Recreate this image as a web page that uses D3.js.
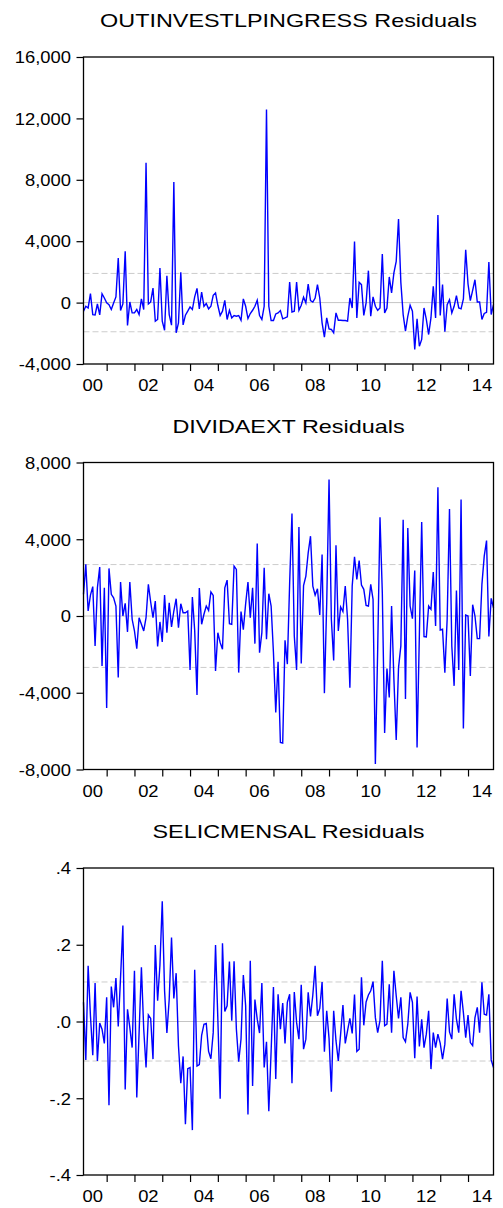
<!DOCTYPE html>
<html><head><meta charset="utf-8">
<script src="https://cdn.jsdelivr.net/npm/d3@7"></script>
<style>body{margin:0;background:#fff} svg{display:block}</style>
</head><body>
<script>
// ---------- data ----------
const titles = ["OUTINVESTLPINGRESS Residuals", "DIVIDAEXT Residuals", "SELICMENSAL Residuals"];
const startYear = 2000, startMonth = 3, nObs = 178; // 2000M03 .. 2014M12

const outinvest = [
  -560, -240, -350, 580, -780, -800, -90, -800, 580, 300,
  -20, -130, -450, -20, 370, 2900, -520, -90, 3350, -1490,
  40, -670, -670, -450, -780, 240, -450, 9110, -90, 40,
  950, -1210, -1100, 2250, -1210, -1800, 1750, -780, -1470, 7860,
  -1970, -1320, 1970, -1450, -820, -560, -280, -450, 370, 930,
  -410, 690, -240, -60, -410, -240, 480, 630, -190, -840,
  -560, 150, -1100, -500, -1000, -840, -890, -840, -1150, 240,
  -240, -1040, -710, -500, -240, 150, -840, -1100, -240, 12580,
  -240, -1170, -1170, -740, -670,
  -520, -1060, -1000, -930, 1340, -610, -560, 1340, -500, -170,
  350, -20, 1210, 130, 40, 300, 1170, 300, -1320, -2250,
  -1000, -1710, -1750, -1970, -670, -1150, -1150, -1170, -1170, -1210,
  300, -350, 3980, -1000, 1320, 1170, -840, -20, 2080, -890,
  370, -240, -500, -350, 3160, -670, -350, 1670, 630, 1930,
  2680, 5450, 1320, -780, -1860, -890, -170, -560, -3050, -1060,
  -2840, -2400, -350, -1100, -2080, -1000, 1060, -1000, 5710, -840,
  1170, -1900, -130, 190, -670, -240, 450, -350, -410, 240,
  3440, 1210, 130, 800, 1490, 40, 40, -1100, -710, -630,
  2640, -780, -130
];

const dividaext = [
  1130, 2690, 260, 1090, 1530, -1560, 1470, 2550, -2600, 1470,
  -4800, 2480, 1130, 950, 520, -3210, 1770, 0, 660, -830,
  1770, -170, -780, -1700, -90, -430, -780, -90, 1650, 730,
  -90, 780, -1590, -310, -1350, 1090, -870, 690, -570, 260,
  900, -610, 640, 170, 170, 260, -2810, 990, -750, -4110,
  1460, -430, 90, 520, 290, 1250, 1070, -2860, -870, -1390,
  -1730, 1470, 1870, -400, -430, 2600, 2430, -2950, 230, -710,
  640, 1770, -90, 1470, -1440, 3780, -1910, -870, 2510, -1210,
  1160, 520, -1900, -5030, -2390,
  -6590, -6620, -1270, -2510, 1730, 5340, -1040, -2810, 4640, -2480,
  1590, 2080, 3290, 4160, 1560, 1090, 1420, 50, 3210, -4020,
  690, 7110, -170, -2320, 3690, -780, 470, 230, 1560, -170,
  -3740, 1560, 3080, 1910, 2890, 1610, 1390, 550, 520, 1650,
  870, -7710, -1730, 5150, 1210, -6100, -2740, -4250, 520, -3290,
  -6460, -2690, -1560, 5010, -4330, 4590, 520, -140, 2370, -6850,
  -950, 4900, -1070, -1090, 520, 350, 2290, -520, 6710, -730,
  -690, -2950, -140, 5580, -1560, -3640, 1330, -2810, 6070, -5860,
  50, 0, -3120, 590, 0, -1180, -1180, 1650, 3120, 3930,
  -1070, 920, 430
];

const selicmensal = [
  0.050, -0.100, 0.145, 0.015, -0.088, 0.100, -0.103, -0.004, -0.020, -0.057,
  0.063, -0.218, 0.091, 0.037, 0.113, -0.013, 0.115, 0.250, -0.177, 0.032,
  -0.016, -0.068, 0.132, -0.198, -0.029, 0.141, -0.020, -0.120, 0.017, 0.008,
  -0.098, 0.199, 0.054, 0.147, 0.313, 0.080, -0.030, 0.058, 0.219, 0.060,
  0.126, -0.063, -0.161, -0.091, -0.268, -0.123, -0.120, -0.283, 0.135, -0.116,
  -0.112, -0.036, -0.007, -0.005, -0.078, -0.097, -0.029, 0.199, 0.006, -0.201,
  0.204, 0.026, 0.041, 0.156, 0.002, 0.157, -0.020, -0.105, -0.046, 0.121,
  0.041, -0.242, 0.158, -0.168, 0.057, 0.006, -0.030, 0.100, -0.120, -0.053,
  -0.234, -0.077, 0.090, -0.150, 0.071,
  -0.020, 0.048, -0.057, 0.050, 0.071, -0.161, 0.077, -0.003, -0.046, 0.096,
  -0.072, -0.046, 0.076, 0.013, 0.069, 0.145, 0.015, 0.034, 0.103, -0.079,
  0.028, -0.044, -0.183, 0.028, -0.050, -0.103, -0.033, 0.043, -0.057, -0.024,
  0.008, -0.031, 0.070, -0.078, -0.072, 0.115, -0.010, 0.051, 0.069, 0.080,
  0.104, 0.010, -0.029, 0.003, 0.158, -0.011, -0.007, 0.097, -0.029, 0.132,
  0.067, 0.008, 0.063, -0.042, -0.053, -0.007, 0.076, 0.050, -0.096, 0.065,
  -0.065, 0.006, -0.068, -0.033, 0.028, -0.124, -0.029, -0.068, -0.033, -0.057,
  -0.098, -0.059, 0.060, -0.027, -0.046, 0.071, 0.006, -0.029, 0.080, 0.023,
  -0.042, 0.017, -0.055, -0.063, 0.010, 0.037, -0.029, 0.102, 0.019, 0.017,
  0.071, -0.100, -0.120
];

const yDomains = [[-4000, 16000], [-8000, 8000], [-0.4, 0.4]];
const yTickValues = [
  [-4000, 0, 4000, 8000, 12000, 16000],
  [-8000, -4000, 0, 4000, 8000],
  [-0.4, -0.2, 0, 0.2, 0.4]
];
const yTickLabels = [
  ["-4,000", "0", "4,000", "8,000", "12,000", "16,000"],
  ["-8,000", "-4,000", "0", "4,000", "8,000"],
  ["-.4", "-.2", ".0", ".2", ".4"]
];
const seBands = [1900, 2680, 0.103];
const xLabelYears = [2000, 2002, 2004, 2006, 2008, 2010, 2012, 2014];
const xLabelText = ["00", "02", "04", "06", "08", "10", "12", "14"];

const seriesList = [outinvest, dividaext, selicmensal];

// ---------- layout ----------
const W = 503, H = 1208;
const left = 83.5, right = 493.5;
const top0 = 57, panelH = 307, step = 405.5;
const FONT = "'Liberation Sans', Arial, Helvetica, sans-serif";

// observation index of January of a year (relative to start)
const janIndex = yr => (yr - startYear) * 12 + (1 - startMonth);
const periods = d3.range(nObs).map(i => {
  const m = startMonth - 1 + i;
  return { year: startYear + Math.floor(m / 12), month: (m % 12) + 1 };
});
const janTicks = periods.map((p, i) => p.month === 1 ? i : null).filter(v => v !== null);

const svg = d3.select("body").append("svg")
  .attr("width", W).attr("height", H)
  .style("font-family", FONT);
svg.append("rect").attr("width", W).attr("height", H).attr("fill", "#fff");

seriesList.forEach((series, p) => {
  const top = top0 + p * step, bottom = top + panelH;
  const x = d3.scaleLinear().domain([0, nObs - 1]).range([left, right]);
  const y = d3.scaleLinear().domain(yDomains[p]).range([bottom, top]);
  const g = svg.append("g");

  // title
  g.append("text")
    .attr("transform", `translate(${(left + right) / 2},${top - 30}) scale(1.3,1)`)
    .attr("text-anchor", "middle")
    .attr("font-size", 18)
    .attr("fill", "#000")
    .text(titles[p]);

  // reference lines
  g.append("line")
    .attr("x1", left).attr("x2", right)
    .attr("y1", y(0)).attr("y2", y(0))
    .attr("stroke", "#c4c4c4").attr("stroke-width", 1);
  [seBands[p], -seBands[p]].forEach(v => {
    g.append("line")
      .attr("x1", left).attr("x2", right)
      .attr("y1", y(v)).attr("y2", y(v))
      .attr("stroke", "#cccccc").attr("stroke-width", 1)
      .attr("stroke-dasharray", "6,3");
  });

  // series line
  const line = d3.line().x((d, i) => x(i)).y(d => y(d));
  g.append("path")
    .datum(series)
    .attr("d", line)
    .attr("fill", "none")
    .attr("stroke", "#0000ff")
    .attr("stroke-width", 1.4)
    .attr("stroke-linejoin", "miter");

  // frame
  g.append("rect")
    .attr("x", left).attr("y", top)
    .attr("width", right - left).attr("height", panelH)
    .attr("fill", "none").attr("stroke", "#000").attr("stroke-width", 1.3);

  // y axis
  const yAxis = d3.axisLeft(y)
    .tickValues(yTickValues[p])
    .tickSize(7)
    .tickPadding(0)
    .tickFormat((d, i) => yTickLabels[p][i]);
  const ya = g.append("g").attr("transform", `translate(${left},0)`).call(yAxis);
  ya.select(".domain").remove();
  ya.selectAll("line").attr("stroke", "#000").attr("stroke-width", 1.2);
  ya.selectAll("text")
    .attr("x", null).attr("dy", null)
    .attr("transform", "translate(-12.5,0) scale(1.15,1)")
    .attr("dy", "0.36em")
    .attr("font-size", 16)
    .attr("font-family", FONT)
    .attr("fill", "#000");

  // x axis ticks (January)
  const xAxis = d3.axisBottom(x).tickValues(janTicks).tickSize(7).tickFormat("");
  const xa = g.append("g").attr("transform", `translate(0,${bottom})`).call(xAxis);
  xa.select(".domain").remove();
  xa.selectAll("line").attr("stroke", "#000").attr("stroke-width", 1.2);

  // x labels (centered on each labelled year)
  xLabelYears.forEach((yr, k) => {
    g.append("text")
      .attr("transform", `translate(${x(janIndex(yr) + 6)},${bottom + 27}) scale(1.15,1)`)
      .attr("text-anchor", "middle")
      .attr("font-size", 16)
      .attr("fill", "#000")
      .text(xLabelText[k]);
  });
});
</script>
</body></html>
